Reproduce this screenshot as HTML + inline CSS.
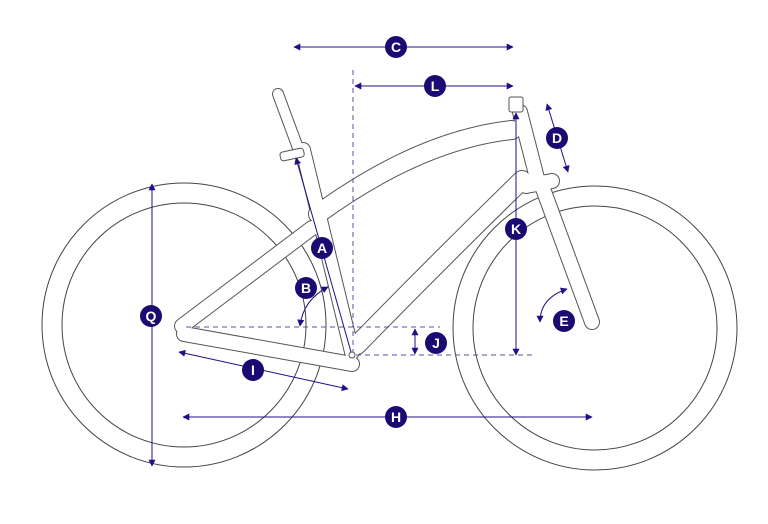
<!DOCTYPE html>
<html><head><meta charset="utf-8"><style>
html,body{margin:0;padding:0;background:#fff;}
svg{display:block;}
text{font-family:"Liberation Sans",sans-serif;font-weight:bold;fill:#fff;font-size:14px;text-anchor:middle;}
</style></head><body>
<svg width="768" height="524" viewBox="0 0 768 524" xmlns="http://www.w3.org/2000/svg">
<defs>
<marker id="ar" viewBox="0 0 10 10" refX="9" refY="5" markerWidth="7" markerHeight="7" orient="auto-start-reverse"><path d="M0,0 L10,5 L0,10 z" fill="#1f1086"/></marker>
</defs>
<g fill="none" stroke="#444" stroke-width="1">
<circle cx="184" cy="325" r="142"/>
<circle cx="184" cy="325" r="122"/>
<circle cx="595" cy="328" r="142"/>
<circle cx="595" cy="328" r="122"/>
</g>
<g fill="none" stroke-linecap="round" stroke-linejoin="round">
<g stroke="#555">
<path d="M278 94 L298 148" stroke-width="12"/>
<path d="M303 150 L352 352" stroke-width="16"/>
<path d="M512 130 Q420 140 318 214" stroke-width="20"/>
<path d="M520 112 L538 182" stroke-width="16"/>
<path d="M542 186 L592 322" stroke-width="16"/>
<path d="M522 180 Q440 260 357 345" stroke-width="20"/>
<path d="M182 326 L312 228" stroke-width="16"/>
<path d="M184 334 L352 364" stroke-width="16"/>
<path d="M526 186 L552 181" stroke-width="16"/>
</g>
<g stroke="#fff">
<path d="M278 94 L298 148" stroke-width="10"/>
<path d="M303 150 L352 352" stroke-width="14"/>
<path d="M512 130 Q420 140 318 214" stroke-width="18"/>
<path d="M520 112 L538 182" stroke-width="14"/>
<path d="M542 186 L592 322" stroke-width="14"/>
<path d="M522 180 Q440 260 357 345" stroke-width="18"/>
<path d="M182 326 L312 228" stroke-width="14"/>
<path d="M184 334 L352 364" stroke-width="14"/>
<path d="M526 186 L552 181" stroke-width="14"/>
</g>
</g>
<rect x="280" y="150" width="24" height="9" rx="3" transform="rotate(-12 292 154)" fill="#fff" stroke="#555"/>
<rect x="509" y="97" width="14" height="15" rx="2" fill="#fff" stroke="#555"/>
<circle cx="352" cy="355" r="3" fill="#fff" stroke="#555"/>
<g stroke="#1f1086" stroke-width="1" fill="none">
<line x1="353" y1="70" x2="353" y2="352" stroke-dasharray="5,4" stroke="#5a4fb0"/>
<line x1="186" y1="327" x2="440" y2="327" stroke-dasharray="5,4" stroke="#5a4fb0"/>
<line x1="356" y1="355" x2="532" y2="355" stroke-dasharray="5,4" stroke="#5a4fb0"/>
<line x1="294" y1="47" x2="513" y2="47" marker-start="url(#ar)" marker-end="url(#ar)"/>
<line x1="355" y1="86" x2="513" y2="86" marker-start="url(#ar)" marker-end="url(#ar)"/>
<line x1="547" y1="104" x2="568" y2="172" marker-start="url(#ar)" marker-end="url(#ar)"/>
<line x1="516" y1="113" x2="516" y2="355" marker-start="url(#ar)" marker-end="url(#ar)"/>
<line x1="296" y1="158" x2="351" y2="352" marker-start="url(#ar)"/>
<path d="M300 326 Q303 300 328 287" marker-start="url(#ar)" marker-end="url(#ar)"/>
<line x1="415" y1="329" x2="415" y2="354" marker-start="url(#ar)" marker-end="url(#ar)"/>
<line x1="179" y1="352" x2="348" y2="389" marker-start="url(#ar)" marker-end="url(#ar)"/>
<line x1="183" y1="417" x2="592" y2="417" marker-start="url(#ar)" marker-end="url(#ar)"/>
<line x1="152" y1="184" x2="152" y2="466" marker-start="url(#ar)" marker-end="url(#ar)"/>
<path d="M540 322 Q540 298 567 289" marker-start="url(#ar)" marker-end="url(#ar)"/>
</g>
<g fill="#1a0a72">
<circle cx="396" cy="47" r="11"/><circle cx="435" cy="86" r="11"/>
<circle cx="557" cy="138" r="11"/><circle cx="516" cy="229" r="11"/>
<circle cx="322" cy="248" r="11"/><circle cx="306" cy="288" r="11"/>
<circle cx="436" cy="343" r="11"/><circle cx="253" cy="370" r="11"/>
<circle cx="396" cy="417" r="11"/><circle cx="151" cy="316" r="11"/>
<circle cx="564" cy="321" r="11"/>
</g>
<text x="396" y="52">C</text><text x="435" y="91">L</text>
<text x="557" y="143">D</text><text x="516" y="234">K</text>
<text x="322" y="253">A</text><text x="306" y="293">B</text>
<text x="436" y="348">J</text><text x="253" y="375">I</text>
<text x="396" y="422">H</text><text x="151" y="321">Q</text>
<text x="564" y="326">E</text>
</svg>
</body></html>
